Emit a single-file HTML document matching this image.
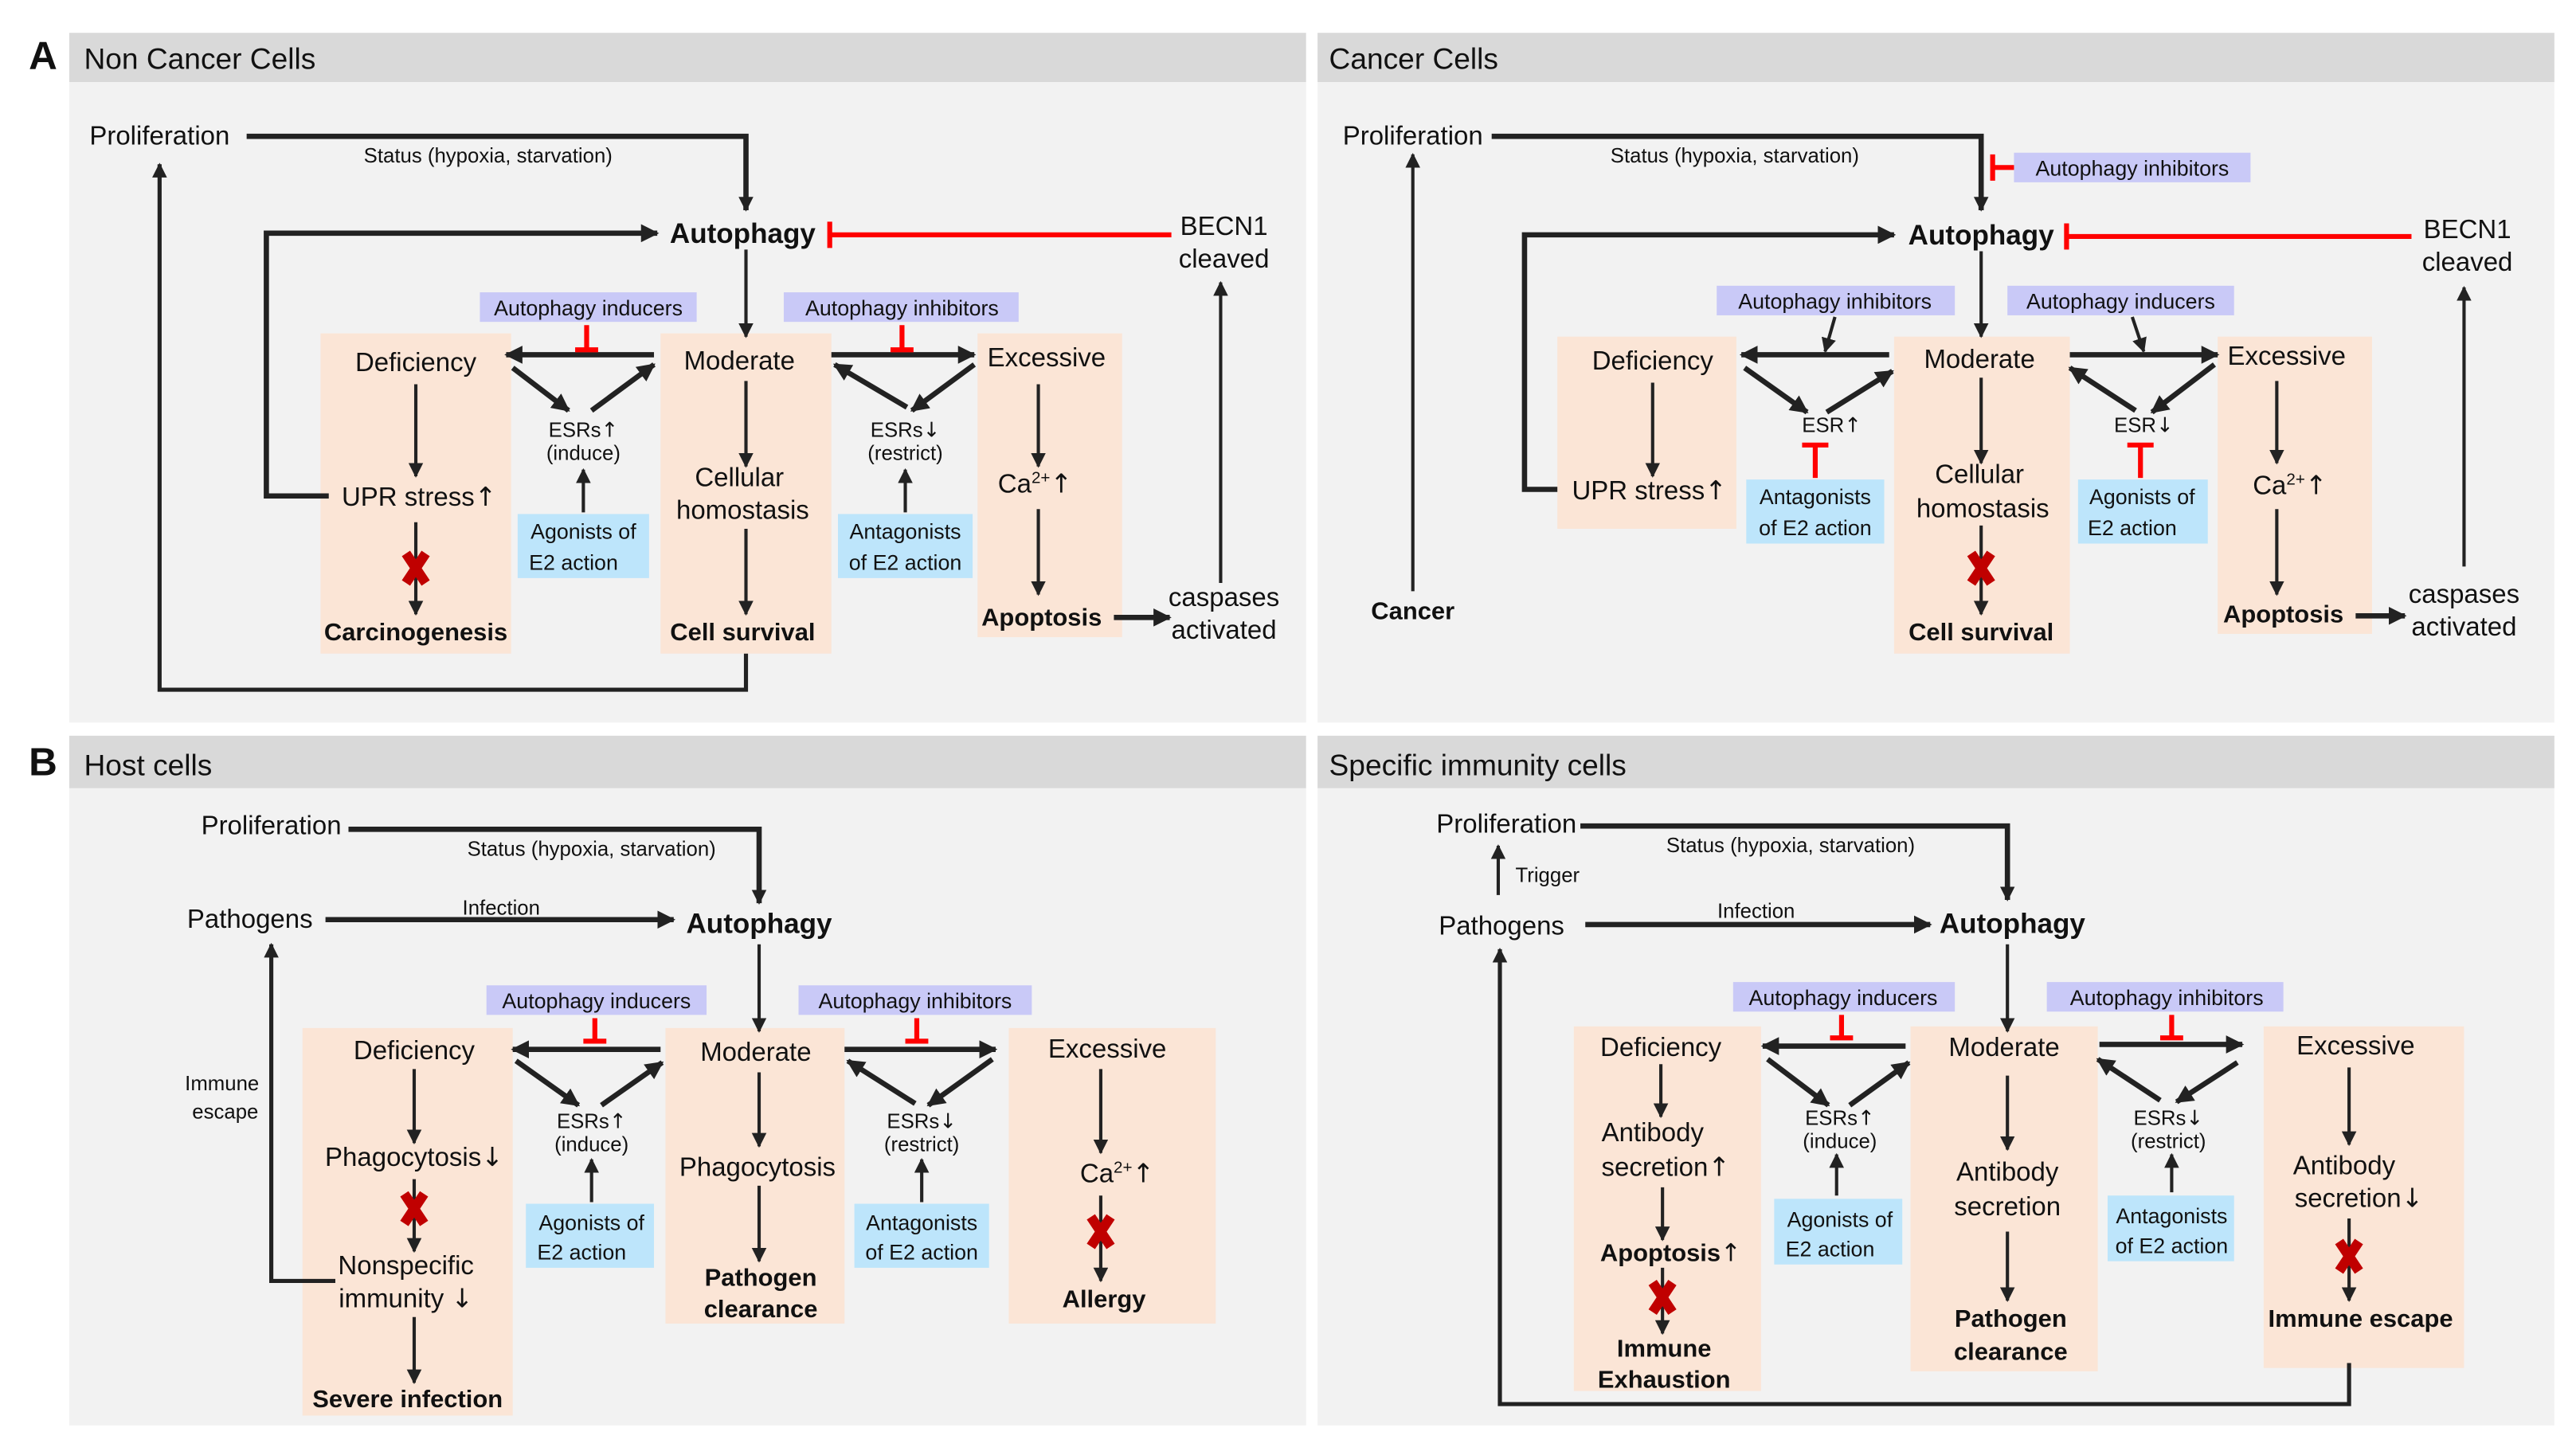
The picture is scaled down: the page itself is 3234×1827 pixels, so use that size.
<!DOCTYPE html>
<html><head><meta charset="utf-8"><style>
html,body{margin:0;padding:0;background:#fff}
svg{display:block}
text{font-family:"Liberation Sans",sans-serif;fill:#111;text-anchor:middle}
.ar{font-family:"DejaVu Sans",sans-serif;font-weight:normal}
.m{font-size:16px}.s{font-size:12.5px}.b{font-size:15px;font-weight:bold}.h{font-size:18px;text-anchor:start}
.bx{font-size:13px}
.l{stroke:#222;stroke-width:2;fill:none}
.t{stroke:#222;stroke-width:3.2;fill:none}
.r{stroke:#f00;stroke-width:3;fill:none}
.x{stroke:#c00000;stroke-width:6}
</style></head><body>
<svg width="3234" height="1827" viewBox="0 0 1568 886" xmlns="http://www.w3.org/2000/svg">
<defs>
<marker id="a" viewBox="0 0 10 10" refX="9" refY="5" markerWidth="9" markerHeight="9" markerUnits="userSpaceOnUse" orient="auto"><path d="M0,0L10,5L0,10z" fill="#222"/></marker>
<marker id="A" viewBox="0 0 10 10" refX="9" refY="5" markerWidth="11" markerHeight="11" markerUnits="userSpaceOnUse" orient="auto"><path d="M0,0L10,5L0,10z" fill="#222"/></marker>
<g id="X"><line class="x" x1="-6" y1="-9" x2="6" y2="9"/><line class="x" x1="6" y1="-9" x2="-6" y2="9"/></g>
</defs>
<rect x="42" y="20" width="753" height="30" fill="#d9d9d9"/><rect x="42" y="50" width="753" height="390" fill="#f2f2f2"/>
<rect x="802" y="20" width="753" height="30" fill="#d9d9d9"/><rect x="802" y="50" width="753" height="390" fill="#f2f2f2"/>
<rect x="42" y="448" width="753" height="32" fill="#d9d9d9"/><rect x="42" y="480" width="753" height="388" fill="#f2f2f2"/>
<rect x="802" y="448" width="753" height="32" fill="#d9d9d9"/><rect x="802" y="480" width="753" height="388" fill="#f2f2f2"/>
<text x="26" y="42" style="font-size:24px;font-weight:bold">A</text>
<text x="26" y="472" style="font-size:24px;font-weight:bold">B</text>
<text class="h" x="51" y="42">Non Cancer Cells</text>
<text class="h" x="809" y="42">Cancer Cells</text>
<text class="h" x="51" y="472">Host cells</text>
<text class="h" x="809" y="472">Specific immunity cells</text>

<!-- A LEFT -->
<rect x="195" y="203" width="116" height="195" fill="#fbe5d6"/>
<rect x="402" y="203" width="104" height="195" fill="#fbe5d6"/>
<rect x="595" y="203" width="88" height="185" fill="#fbe5d6"/>
<rect x="292" y="178" width="132" height="18" fill="#c9c9f7"/>
<rect x="477" y="178" width="143" height="18" fill="#c9c9f7"/>
<rect x="315" y="313" width="80" height="39" fill="#bde5fb"/>
<rect x="510" y="313" width="82" height="39" fill="#bde5fb"/>
<text class="m" x="97" y="88">Proliferation</text>
<path class="t" d="M150,83H454V128" marker-end="url(#a)"/>
<text class="s" x="297" y="99">Status (hypoxia, starvation)</text>
<text x="452" y="148" style="font-size:17px;font-weight:bold">Autophagy</text>
<path class="t" d="M200,302H162V142H400" marker-end="url(#A)"/>
<path class="r" d="M505,143H713M505,135V151"/>
<text class="m" x="745" y="143">BECN1</text><text class="m" x="745" y="163">cleaved</text>
<path class="l" d="M743,355V172" marker-end="url(#a)"/>
<path class="l" d="M454,152V205" marker-end="url(#a)"/>
<text class="m" x="253" y="226">Deficiency</text>
<text class="m" x="450" y="225">Moderate</text>
<text class="m" x="637" y="223">Excessive</text>
<path class="t" d="M398,216H308" marker-end="url(#A)"/>
<text class="bx" x="358" y="192">Autophagy inducers</text>
<path class="r" d="M357,198V213M350,213H364"/>
<path class="t" d="M312,224L346,250" marker-end="url(#A)"/>
<path class="t" d="M360,250L398,222" marker-end="url(#A)"/>
<text class="s" x="355" y="266">ESRs<tspan class="ar">↑</tspan></text><text class="s" x="355" y="280">(induce)</text>
<path class="l" d="M355,312V286" marker-end="url(#a)"/>
<text class="bx" x="355" y="328">Agonists of</text><text class="bx" x="349" y="347">E2 action</text>
<path class="l" d="M253,234V290" marker-end="url(#a)"/>
<text class="m" x="255" y="308">UPR stress<tspan class="ar">↑</tspan></text>
<path class="l" d="M253,318V374" marker-end="url(#a)"/>
<use href="#X" x="253" y="346"/>
<text class="b" x="253" y="390">Carcinogenesis</text>
<path class="l" d="M454,232V284" marker-end="url(#a)"/>
<text class="m" x="450" y="296">Cellular</text><text class="m" x="452" y="316">homostasis</text>
<path class="l" d="M454,322V374" marker-end="url(#a)"/>
<text class="b" x="452" y="390">Cell survival</text>
<path class="l" style="stroke-width:2.5" d="M454,398V420H97V100" marker-end="url(#a)"/>
<path class="t" d="M506,216H593" marker-end="url(#A)"/>
<text class="bx" x="549" y="192">Autophagy inhibitors</text>
<path class="r" d="M549,198V213M542,213H556"/>
<path class="t" d="M552,248L508,222" marker-end="url(#A)"/>
<path class="t" d="M593,222L555,250" marker-end="url(#A)"/>
<text class="s" x="551" y="266">ESRs<tspan class="ar">↓</tspan></text><text class="s" x="551" y="280">(restrict)</text>
<path class="l" d="M551,312V286" marker-end="url(#a)"/>
<text class="bx" x="551" y="328">Antagonists</text><text class="bx" x="551" y="347">of E2 action</text>
<path class="l" d="M632,234V284" marker-end="url(#a)"/>
<text class="m" x="630" y="300">Ca<tspan dy="-6" style="font-size:10px">2+</tspan><tspan dy="6" class="ar">↑</tspan></text>
<path class="l" d="M632,310V362" marker-end="url(#a)"/>
<text class="b" x="634" y="381">Apoptosis</text>
<path class="t" d="M678,376H712" marker-end="url(#A)"/>
<text class="m" x="745" y="369">caspases</text><text class="m" x="745" y="389">activated</text>

<!-- A RIGHT -->
<rect x="948" y="205" width="109" height="117" fill="#fbe5d6"/>
<rect x="1153" y="205" width="107" height="193" fill="#fbe5d6"/>
<rect x="1350" y="205" width="94" height="181" fill="#fbe5d6"/>
<rect x="1226" y="93" width="144" height="18" fill="#c9c9f7"/>
<rect x="1045" y="174" width="145" height="18" fill="#c9c9f7"/>
<rect x="1222" y="174" width="138" height="18" fill="#c9c9f7"/>
<rect x="1063" y="292" width="84" height="39" fill="#bde5fb"/>
<rect x="1265" y="292" width="79" height="39" fill="#bde5fb"/>
<text class="m" x="860" y="88">Proliferation</text>
<path class="t" d="M908,83H1206V128" marker-end="url(#a)"/>
<text class="s" x="1056" y="99">Status (hypoxia, starvation)</text>
<path class="r" d="M1226,102H1213M1213,94V110"/>
<text class="bx" x="1298" y="107">Autophagy inhibitors</text>
<text x="1206" y="149" style="font-size:17px;font-weight:bold">Autophagy</text>
<path class="t" d="M948,298H928V143H1153" marker-end="url(#A)"/>
<path class="r" d="M1258,144H1468M1258,136V152"/>
<text class="m" x="1502" y="145">BECN1</text><text class="m" x="1502" y="165">cleaved</text>
<path class="l" d="M1500,345V175" marker-end="url(#a)"/>
<text class="b" x="860" y="377">Cancer</text>
<path class="l" d="M860,360V94" marker-end="url(#a)"/>
<path class="l" d="M1206,153V205" marker-end="url(#a)"/>
<text class="m" x="1006" y="225">Deficiency</text>
<text class="m" x="1205" y="224">Moderate</text>
<text class="m" x="1392" y="222">Excessive</text>
<path class="t" d="M1150,216H1060" marker-end="url(#A)"/>
<text class="bx" x="1117" y="188">Autophagy inhibitors</text>
<path class="l" d="M1117,193L1111,214" marker-end="url(#a)"/>
<path class="t" d="M1062,224L1100,251" marker-end="url(#A)"/>
<path class="t" d="M1112,251L1152,226" marker-end="url(#A)"/>
<text class="s" x="1115" y="263">ESR<tspan class="ar">↑</tspan></text>
<path class="r" d="M1105,291V271M1097,271H1113"/>
<text class="bx" x="1105" y="307">Antagonists</text><text class="bx" x="1105" y="326">of E2 action</text>
<path class="l" d="M1006,233V290" marker-end="url(#a)"/>
<text class="m" x="1004" y="304">UPR stress<tspan class="ar">↑</tspan></text>
<path class="l" d="M1206,230V282" marker-end="url(#a)"/>
<text class="m" x="1205" y="294">Cellular</text><text class="m" x="1207" y="315">homostasis</text>
<path class="l" d="M1206,320V374" marker-end="url(#a)"/>
<use href="#X" x="1206" y="346"/>
<text class="b" x="1206" y="390">Cell survival</text>
<path class="t" d="M1260,216H1350" marker-end="url(#A)"/>
<text class="bx" x="1291" y="188">Autophagy inducers</text>
<path class="l" d="M1298,193L1305,214" marker-end="url(#a)"/>
<path class="t" d="M1300,250L1260,224" marker-end="url(#A)"/>
<path class="t" d="M1348,222L1310,251" marker-end="url(#A)"/>
<text class="s" x="1305" y="263">ESR<tspan class="ar">↓</tspan></text>
<path class="r" d="M1303,291V271M1295,271H1311"/>
<text class="bx" x="1304" y="307">Agonists of</text><text class="bx" x="1298" y="326">E2 action</text>
<path class="l" d="M1386,232V282" marker-end="url(#a)"/>
<text class="m" x="1394" y="301">Ca<tspan dy="-6" style="font-size:10px">2+</tspan><tspan dy="6" class="ar">↑</tspan></text>
<path class="l" d="M1386,310V362" marker-end="url(#a)"/>
<text class="b" x="1390" y="379">Apoptosis</text>
<path class="t" d="M1434,375H1464" marker-end="url(#A)"/>
<text class="m" x="1500" y="367">caspases</text><text class="m" x="1500" y="387">activated</text>

<!-- B LEFT -->
<rect x="184" y="626" width="128" height="236" fill="#fbe5d6"/>
<rect x="405" y="626" width="109" height="180" fill="#fbe5d6"/>
<rect x="614" y="626" width="126" height="180" fill="#fbe5d6"/>
<rect x="296" y="600" width="134" height="18" fill="#c9c9f7"/>
<rect x="486" y="600" width="142" height="18" fill="#c9c9f7"/>
<rect x="320" y="733" width="78" height="39" fill="#bde5fb"/>
<rect x="520" y="733" width="82" height="39" fill="#bde5fb"/>
<text class="m" x="165" y="508">Proliferation</text>
<path class="t" d="M212,505H462V550" marker-end="url(#a)"/>
<text class="s" x="360" y="521">Status (hypoxia, starvation)</text>
<text class="m" x="152" y="565">Pathogens</text>
<path class="t" d="M198,560H410" marker-end="url(#A)"/>
<text class="s" x="305" y="557">Infection</text>
<text x="462" y="568" style="font-size:17px;font-weight:bold">Autophagy</text>
<path class="l" d="M462,575V628" marker-end="url(#a)"/>
<text class="s" x="135" y="664">Immune</text><text class="s" x="137" y="681">escape</text>
<path class="l" style="stroke-width:2.5" d="M204,780H165V575" marker-end="url(#a)"/>
<text class="m" x="252" y="645">Deficiency</text>
<text class="m" x="460" y="646">Moderate</text>
<text class="m" x="674" y="644">Excessive</text>
<path class="t" d="M402,639H312" marker-end="url(#A)"/>
<text class="bx" x="363" y="614">Autophagy inducers</text>
<path class="r" d="M362,620V634M355,634H369"/>
<path class="t" d="M314,646L352,673" marker-end="url(#A)"/>
<path class="t" d="M366,673L403,647" marker-end="url(#A)"/>
<text class="s" x="360" y="687">ESRs<tspan class="ar">↑</tspan></text><text class="s" x="360" y="701">(induce)</text>
<path class="l" d="M360,732V706" marker-end="url(#a)"/>
<text class="bx" x="360" y="749">Agonists of</text><text class="bx" x="354" y="767">E2 action</text>
<path class="l" d="M252,651V696" marker-end="url(#a)"/>
<text class="m" x="252" y="710">Phagocytosis<tspan class="ar">↓</tspan></text>
<path class="l" d="M252,718V762" marker-end="url(#a)"/>
<use href="#X" x="252" y="736"/>
<text class="m" x="247" y="776">Nonspecific</text><text class="m" x="247" y="796">immunity <tspan class="ar">↓</tspan></text>
<path class="l" d="M252,802V842" marker-end="url(#a)"/>
<text class="b" x="248" y="857">Severe infection</text>
<path class="l" d="M462,653V698" marker-end="url(#a)"/>
<text class="m" x="461" y="716">Phagocytosis</text>
<path class="l" d="M462,722V768" marker-end="url(#a)"/>
<text class="b" x="463" y="783">Pathogen</text><text class="b" x="463" y="802">clearance</text>
<path class="t" d="M514,639H606" marker-end="url(#A)"/>
<text class="bx" x="557" y="614">Autophagy inhibitors</text>
<path class="r" d="M558,620V634M551,634H565"/>
<path class="t" d="M557,672L516,646" marker-end="url(#A)"/>
<path class="t" d="M604,645L565,673" marker-end="url(#A)"/>
<text class="s" x="561" y="687">ESRs<tspan class="ar">↓</tspan></text><text class="s" x="561" y="701">(restrict)</text>
<path class="l" d="M561,732V706" marker-end="url(#a)"/>
<text class="bx" x="561" y="749">Antagonists</text><text class="bx" x="561" y="767">of E2 action</text>
<path class="l" d="M670,651V702" marker-end="url(#a)"/>
<text class="m" x="680" y="720">Ca<tspan dy="-6" style="font-size:10px">2+</tspan><tspan dy="6" class="ar">↑</tspan></text>
<path class="l" d="M670,728V780" marker-end="url(#a)"/>
<use href="#X" x="670" y="750"/>
<text class="b" x="672" y="796">Allergy</text>

<!-- B RIGHT -->
<rect x="958" y="625" width="114" height="222" fill="#fbe5d6"/>
<rect x="1163" y="625" width="114" height="210" fill="#fbe5d6"/>
<rect x="1378" y="625" width="122" height="208" fill="#fbe5d6"/>
<rect x="1055" y="598" width="135" height="18" fill="#c9c9f7"/>
<rect x="1246" y="598" width="144" height="18" fill="#c9c9f7"/>
<rect x="1080" y="730" width="78" height="40" fill="#bde5fb"/>
<rect x="1283" y="728" width="77" height="40" fill="#bde5fb"/>
<text class="m" x="917" y="507">Proliferation</text>
<path class="t" d="M962,503H1222V548" marker-end="url(#a)"/>
<text class="s" x="1090" y="519">Status (hypoxia, starvation)</text>
<text class="s" x="942" y="537">Trigger</text>
<path class="l" d="M912,545V515" marker-end="url(#a)"/>
<text class="m" x="914" y="569">Pathogens</text>
<path class="t" d="M965,563H1175" marker-end="url(#A)"/>
<text class="s" x="1069" y="559">Infection</text>
<text x="1225" y="568" style="font-size:17px;font-weight:bold">Autophagy</text>
<path class="l" d="M1222,575V628" marker-end="url(#a)"/>
<path class="l" style="stroke-width:2.5" d="M1430,830V855H913V578" marker-end="url(#a)"/>
<text class="m" x="1011" y="643">Deficiency</text>
<text class="m" x="1220" y="643">Moderate</text>
<text class="m" x="1434" y="642">Excessive</text>
<path class="t" d="M1160,637H1073" marker-end="url(#A)"/>
<text class="bx" x="1122" y="612">Autophagy inducers</text>
<path class="r" d="M1121,618V632M1114,632H1128"/>
<path class="t" d="M1076,645L1113,673" marker-end="url(#A)"/>
<path class="t" d="M1126,673L1162,647" marker-end="url(#A)"/>
<text class="s" x="1120" y="685">ESRs<tspan class="ar">↑</tspan></text><text class="s" x="1120" y="699">(induce)</text>
<path class="l" d="M1118,728V703" marker-end="url(#a)"/>
<text class="bx" x="1120" y="747">Agonists of</text><text class="bx" x="1114" y="765">E2 action</text>
<path class="l" d="M1011,648V680" marker-end="url(#a)"/>
<text class="m" x="1006" y="695">Antibody</text><text class="m" x="1014" y="716">secretion<tspan class="ar">↑</tspan></text>
<path class="l" d="M1012,723V755" marker-end="url(#a)"/>
<text class="b" x="1017" y="768">Apoptosis<tspan class="ar">↑</tspan></text>
<path class="l" d="M1012,772V812" marker-end="url(#a)"/>
<use href="#X" x="1012" y="790"/>
<text class="b" x="1013" y="826">Immune</text><text class="b" x="1013" y="845">Exhaustion</text>
<path class="l" d="M1222,655V700" marker-end="url(#a)"/>
<text class="m" x="1222" y="719">Antibody</text><text class="m" x="1222" y="740">secretion</text>
<path class="l" d="M1222,750V792" marker-end="url(#a)"/>
<text class="b" x="1224" y="808">Pathogen</text><text class="b" x="1224" y="828">clearance</text>
<path class="t" d="M1278,636H1365" marker-end="url(#A)"/>
<text class="bx" x="1319" y="612">Autophagy inhibitors</text>
<path class="r" d="M1322,618V632M1315,632H1329"/>
<path class="t" d="M1315,670L1277,645" marker-end="url(#A)"/>
<path class="t" d="M1362,647L1325,671" marker-end="url(#A)"/>
<text class="s" x="1320" y="685">ESRs<tspan class="ar">↓</tspan></text><text class="s" x="1320" y="699">(restrict)</text>
<path class="l" d="M1322,726V703" marker-end="url(#a)"/>
<text class="bx" x="1322" y="745">Antagonists</text><text class="bx" x="1322" y="763">of E2 action</text>
<path class="l" d="M1430,650V697" marker-end="url(#a)"/>
<text class="m" x="1427" y="715">Antibody</text><text class="m" x="1436" y="735">secretion<tspan class="ar">↓</tspan></text>
<path class="l" d="M1430,742V792" marker-end="url(#a)"/>
<use href="#X" x="1430" y="765"/>
<text class="b" x="1437" y="808">Immune escape</text>
</svg>
</body></html>
